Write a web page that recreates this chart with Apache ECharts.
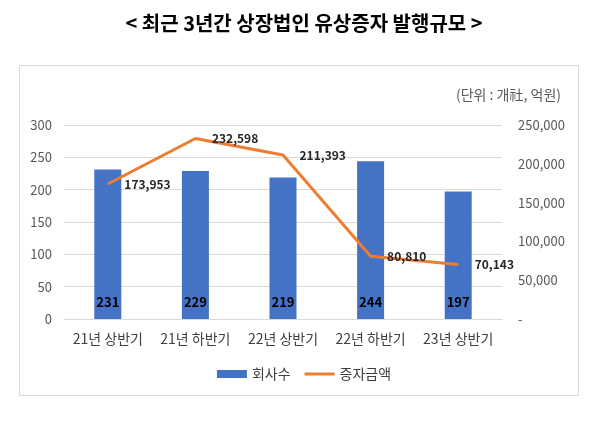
<!DOCTYPE html>
<html>
<head>
<meta charset="utf-8">
<script src="https://cdn.jsdelivr.net/npm/echarts@6/dist/echarts.min.js"></script>
<style>
  html, body { margin: 0; padding: 0; background: #fff; }
  #main { width: 608px; height: 437px; }
</style>
</head>
<body>
<div id="main"></div>
<script>
// 반기 구분
var categories = ['21년 상반기', '21년 하반기', '22년 상반기', '22년 하반기', '23년 상반기'];
// 회사수 (개社)
var companyCount = [231, 229, 219, 244, 197];
// 증자금액 (억원)
var issueAmount = [173953, 232598, 211393, 80810, 70143];

var font = '"Noto Sans CJK KR", "Noto Sans", sans-serif';

var chart = echarts.init(document.getElementById('main'));

var option = {
    backgroundColor: '#fff',
    textStyle: { fontFamily: font },
    title: {
        text: '< 최근 3년간 상장법인 유상증자 발행규모 >',
        left: 'center',
        top: 8,
        textStyle: { fontSize: 20, fontWeight: 'bold', color: '#000', fontFamily: font }
    },
    graphic: [
        {
            type: 'rect',
            shape: { x: 19.5, y: 65.5, width: 559, height: 330 },
            style: { fill: 'none', stroke: '#d9d9d9', lineWidth: 1 },
            z: -1
        },
        {
            type: 'text',
            right: 47,
            top: 88,
            style: { text: '(단위 : 개社, 억원)', fill: '#595959', font: '14px ' + font }
        }
    ],
    legend: {
        bottom: 51,
        left: 'center',
        itemGap: 14,
        itemWidth: 30,
        itemHeight: 8,
        textStyle: { fontSize: 14, color: '#404040', fontFamily: font },
        data: [
            { name: '회사수', icon: 'rect' },
            { name: '증자금액', icon: 'path://M0,0H30V3H0Z' }
        ]
    },
    grid: {
        left: 64,
        right: 106,
        top: 125,
        bottom: 118
    },
    xAxis: {
        type: 'category',
        data: categories,
        axisLine: { show: true, lineStyle: { color: '#d9d9d9' } },
        axisTick: { show: false },
        axisLabel: { interval: 0, color: '#404040', fontSize: 14, margin: 13, fontFamily: font }
    },
    yAxis: [
        {
            type: 'value',
            min: 0,
            max: 300,
            interval: 50,
            axisLine: { show: false },
            axisTick: { show: false },
            axisLabel: { color: '#595959', fontSize: 13, margin: 12, fontFamily: font },
            splitLine: { lineStyle: { color: '#d9d9d9' } }
        },
        {
            type: 'value',
            min: 0,
            max: 250000,
            interval: 50000,
            axisLine: { show: false },
            axisTick: { show: false },
            splitLine: { show: false },
            axisLabel: {
                color: '#595959',
                fontSize: 13,
                margin: 16,
                fontFamily: font,
                formatter: function (v) {
                    return v === 0 ? '-' : v.toLocaleString('en-US');
                }
            }
        }
    ],
    series: [
        {
            name: '회사수',
            type: 'bar',
            data: companyCount,
            barWidth: 27,
            itemStyle: { color: '#4472c4' },
            label: {
                show: true,
                position: 'insideBottom',
                distance: 10,
                color: '#000',
                fontWeight: 'bold',
                fontSize: 13,
                fontFamily: font
            }
        },
        {
            name: '증자금액',
            type: 'line',
            yAxisIndex: 1,
            data: issueAmount,
            symbol: 'circle',
            symbolSize: 1,
            lineStyle: { color: '#ed7d31', width: 3 },
            itemStyle: { color: '#ed7d31' },
            label: {
                show: true,
                position: 'right',
                distance: 16,
                color: '#262626',
                fontWeight: 'bold',
                fontSize: 12,
                fontFamily: font,
                formatter: function (p) {
                    return p.value.toLocaleString('en-US');
                }
            }
        }
    ]
};

chart.setOption(option);
</script>
</body>
</html>
